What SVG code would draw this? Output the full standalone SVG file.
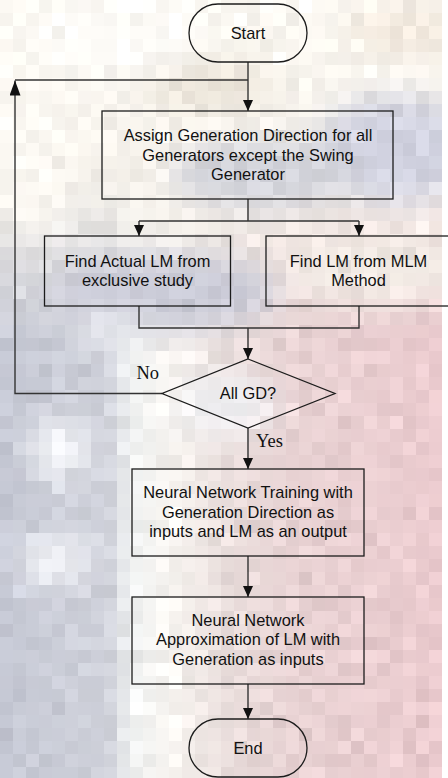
<svg xmlns="http://www.w3.org/2000/svg" width="448" height="778" viewBox="0 0 448 778">
  <style>
    .node { fill: none; stroke: #1c1c1c; stroke-width: 1.3; }
    .wire { fill: none; stroke: #333; stroke-width: 1.4; }
    .label { font-family: "Liberation Sans", Arial, sans-serif; font-size: 16.4px; fill: #111; text-anchor: middle; }
    .branch { font-family: "Liberation Serif", "Times New Roman", serif; font-size: 18.5px; fill: #111; }
  </style>
  <defs>
    <marker id="arrow" viewBox="0 0 11 10" markerWidth="11" markerHeight="10" refX="11" refY="5" orient="auto" markerUnits="userSpaceOnUse">
      <path d="M0,0 L11,5 L0,10 z" fill="#111"/>
    </marker>
    <marker id="arrowLong" viewBox="0 0 15 11" markerWidth="15" markerHeight="11" refX="15" refY="5.5" orient="auto" markerUnits="userSpaceOnUse">
      <path d="M0,0 L15,5.5 L0,11 z" fill="#111"/>
    </marker>
    <linearGradient id="lowBand" x1="0" y1="0" x2="448" y2="0" gradientUnits="userSpaceOnUse">
      <stop offset="0" stop-color="#c4c7d3"/>
      <stop offset="0.24" stop-color="#cdcfd8"/>
      <stop offset="0.29" stop-color="#eef0f0"/>
      <stop offset="0.38" stop-color="#f8f5f1"/>
      <stop offset="0.5" stop-color="#e8dddb"/>
      <stop offset="0.66" stop-color="#e7d1d2"/>
      <stop offset="1" stop-color="#eac9cd"/>
    </linearGradient>
    <linearGradient id="topWash" x1="0" y1="0" x2="0" y2="340" gradientUnits="userSpaceOnUse">
      <stop offset="0" stop-color="#fbf8f2" stop-opacity="1"/>
      <stop offset="0.5" stop-color="#f5f1ea" stop-opacity="1"/>
      <stop offset="1" stop-color="#f2eee6" stop-opacity="0"/>
    </linearGradient>
    <filter id="soft" x="-50%" y="-50%" width="200%" height="200%">
      <feGaussianBlur stdDeviation="14"/>
    </filter>
    <!-- grain plus coarse pixel blocks for the backdrop -->
    <filter id="mosaic" x="0" y="0" width="448" height="778" filterUnits="userSpaceOnUse" color-interpolation-filters="sRGB">
      <feTurbulence type="fractalNoise" baseFrequency="0.06" numOctaves="2" seed="7" result="noise"/>
      <feColorMatrix in="noise" type="matrix" values="1 0 0 0 0  1 0 0 0 0  1 0 0 0 0  0 0 0 0 1" result="grey"/>
      <feComposite in="SourceGraphic" in2="grey" operator="arithmetic" k1="0" k2="1" k3="0.18" k4="-0.085" result="grain"/>
      <feFlood x="6" y="6" width="1" height="1" flood-color="#000" result="dot"/>
      <feComposite in="dot" in2="dot" x="0" y="0" width="13" height="13" result="cellDot"/>
      <feTile in="cellDot" result="dots"/>
      <feComposite in="grain" in2="dots" operator="in" result="samples"/>
      <feMorphology in="samples" operator="dilate" radius="6"/>
    </filter>
  </defs>

  <!-- backdrop -->
  <g id="backdrop" filter="url(#mosaic)">
    <rect width="448" height="778" fill="url(#lowBand)"/>
    <rect width="448" height="340" fill="url(#topWash)"/>
    <g filter="url(#soft)">
      <ellipse cx="395" cy="150" rx="80" ry="55" fill="#d0d1df"/>
      <ellipse cx="265" cy="175" rx="95" ry="35" fill="#d2d3da"/>
      <ellipse cx="205" cy="85" rx="70" ry="25" fill="#e8e1d5"/>
      <ellipse cx="405" cy="30" rx="60" ry="25" fill="#f1e7dc"/>
      <ellipse cx="165" cy="292" rx="115" ry="40" fill="#cacbd7"/>
      <ellipse cx="375" cy="268" rx="90" ry="35" fill="#f0e9e3"/>
      <ellipse cx="60" cy="450" rx="30" ry="30" fill="#f6f7fa"/>
      <ellipse cx="55" cy="560" rx="35" ry="25" fill="#f4f5f9"/>
      <ellipse cx="110" cy="330" rx="30" ry="15" fill="#f0f2f6"/>
      <ellipse cx="225" cy="405" rx="50" ry="30" fill="#f0f0f3"/>
      <ellipse cx="30" cy="150" rx="40" ry="90" fill="#fbf8f2"/>
      <ellipse cx="120" cy="40" rx="90" ry="40" fill="#fcfaf6"/>
    </g>
  </g>

  <!-- connectors -->
  <g id="connectors">
    <path class="wire" d="M248,62 V111" marker-end="url(#arrow)"/>
    <path class="wire" d="M15,80 H248"/>
    <path class="wire" d="M162,393.5 H15 V80.5" marker-end="url(#arrowLong)"/>
    <path class="wire" d="M248,199 V221 M139,221 H359"/>
    <path class="wire" d="M139,221 V236" marker-end="url(#arrow)"/>
    <path class="wire" d="M359,221 V236" marker-end="url(#arrow)"/>
    <path class="wire" d="M139,306 V328 H359 V306"/>
    <path class="wire" d="M248,328 V359" marker-end="url(#arrow)"/>
    <path class="wire" d="M248,428 V469" marker-end="url(#arrow)"/>
    <path class="wire" d="M248,556 V597" marker-end="url(#arrow)"/>
    <path class="wire" d="M248,684 V719" marker-end="url(#arrow)"/>
    <text class="branch" x="136.5" y="378.5">No</text>
    <text class="branch" x="256" y="447">Yes</text>
  </g>

  <g id="start">
    <rect class="node" x="189" y="4" width="118" height="58" rx="29" ry="29"/>
    <text class="label" x="248" y="38.5">Start</text>
  </g>

  <g id="assign-direction">
    <rect class="node" x="102" y="111" width="291" height="88"/>
    <text class="label" x="248" y="141">Assign Generation Direction for all</text>
    <text class="label" x="248" y="160.7">Generators except the Swing</text>
    <text class="label" x="248" y="180.4">Generator</text>
  </g>

  <g id="actual-lm">
    <rect class="node" x="44.5" y="236" width="186" height="70"/>
    <text class="label" x="137.5" y="266.5">Find Actual LM from</text>
    <text class="label" x="137.5" y="286">exclusive study</text>
  </g>

  <g id="mlm-lm">
    <rect class="node" x="266" y="236" width="185" height="70"/>
    <text class="label" x="358.5" y="266.5">Find LM from MLM</text>
    <text class="label" x="358.5" y="286">Method</text>
  </g>

  <g id="all-gd">
    <polygon class="node" points="248,359 335,393.5 248,428 162,393.5"/>
    <text class="label" x="248" y="398.5">All GD?</text>
  </g>

  <g id="nn-training">
    <rect class="node" x="132" y="469" width="232" height="87"/>
    <text class="label" x="248" y="498">Neural Network Training with</text>
    <text class="label" x="248" y="517.5">Generation Direction as</text>
    <text class="label" x="248" y="537">inputs and LM as an output</text>
  </g>

  <g id="nn-approx">
    <rect class="node" x="132" y="597" width="232" height="87"/>
    <text class="label" x="248" y="625.5">Neural Network</text>
    <text class="label" x="248" y="645">Approximation of LM with</text>
    <text class="label" x="248" y="664.5">Generation as inputs</text>
  </g>

  <g id="end">
    <rect class="node" x="189" y="719" width="118" height="58" rx="29" ry="29"/>
    <text class="label" x="248" y="753.5">End</text>
  </g>
</svg>
